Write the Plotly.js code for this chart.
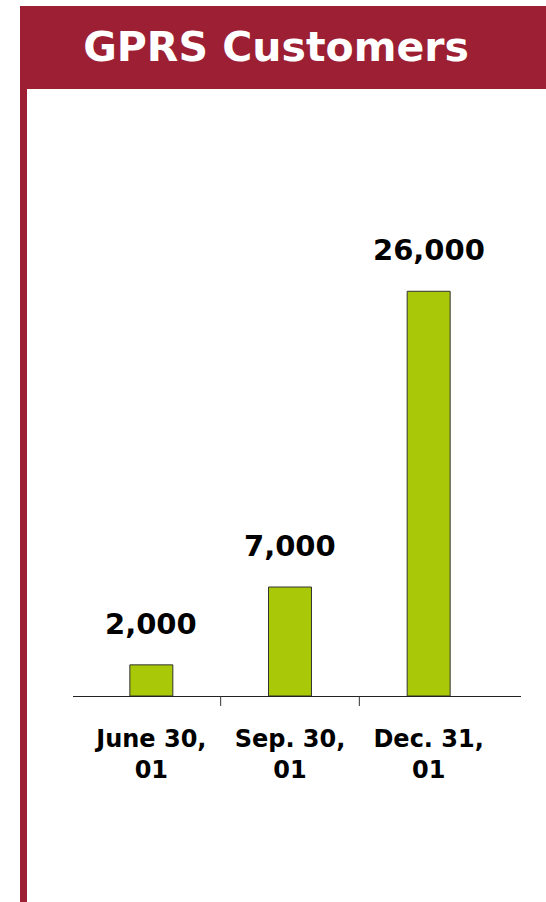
<!DOCTYPE html>
<html>
<head>
<meta charset="utf-8">
<script src="https://cdn.plot.ly/plotly-3.0.1.min.js"></script>
<style>html,body{margin:0;padding:0;background:#fff;}#chart{width:546px;height:902px;}</style>
</head>
<body>
<div id="chart"></div>
<script>
// ---- data ----
const categories = ["June 30,<br>01", "Sep. 30,<br>01", "Dec. 31,<br>01"];
const customers = [2000, 7000, 26000];
const valueLabels = ["2,000", "7,000", "26,000"];
const chartTitle = "GPRS Customers";

// ---- geometry ----
const W = 546, H = 902;
const ml = 73, mr = 25, mt = 229, mb = 206;
const pw = W - ml - mr, ph = H - mt - mb;
const px = x => (x - ml) / pw;          // pixel x -> paper
const py = y => (H - mb - y) / ph;      // pixel y -> paper
const RED = "#9C1F33";
const GREEN = "#A8C808";
const FONT = "DejaVu Sans, Verdana, sans-serif";

const trace = {
  type: "bar",
  x: categories,
  y: customers,
  width: 0.31,
  marker: { color: GREEN, line: { color: "#333333", width: 1 } },
  hoverinfo: "skip"
};

const annotations = categories.map((c, i) => ({
  x: c, y: customers[i], xref: "x", yref: "y",
  text: "<b>" + valueLabels[i] + "</b>",
  showarrow: false, xanchor: "center", yanchor: "bottom", yshift: 22,
  font: { family: FONT, size: 29, color: "#000" }
}));

const shapes = [
  // header band
  { type: "rect", xref: "paper", yref: "paper", x0: px(20), x1: px(546), y0: py(89), y1: py(6),
    fillcolor: RED, line: { width: 0 }, layer: "below" },
  // left vertical bar
  { type: "rect", xref: "paper", yref: "paper", x0: px(20), x1: px(27), y0: py(902), y1: py(6),
    fillcolor: RED, line: { width: 0 }, layer: "below" },
  // category boundary ticks
  { type: "line", xref: "x", yref: "paper", x0: 0.5, x1: 0.5, y0: 0, y1: py(706), line: { color: "#333", width: 1 } },
  { type: "line", xref: "x", yref: "paper", x0: 1.5, x1: 1.5, y0: 0, y1: py(706), line: { color: "#333", width: 1 } }
];

const layout = {
  width: W, height: H,
  margin: { l: ml, r: mr, t: mt, b: mb, pad: 0 },
  paper_bgcolor: "#fff", plot_bgcolor: "rgba(0,0,0,0)",
  showlegend: false,
  title: {
    text: "<b>" + chartTitle + "</b>",
    font: { family: FONT, size: 41, color: "#fff" },
    xref: "container", yref: "container",
    x: 276 / W, xanchor: "center",
    y: 1 - 47 / H, yanchor: "middle"
  },
  xaxis: {
    type: "category",
    range: [-0.565, 2.666],
    showline: true, linecolor: "#222", linewidth: 1,
    ticks: "", showgrid: false, zeroline: false,
    tickfont: { family: FONT, size: 24, color: "#000", weight: "bold" },
    ticklabelstandoff: 21,
    fixedrange: true
  },
  yaxis: {
    range: [0, 30000],
    visible: false, showgrid: false, zeroline: false,
    fixedrange: true
  },
  shapes: shapes,
  annotations: annotations,
  bargap: 0
};

Plotly.newPlot("chart", [trace], layout, { staticPlot: true, displayModeBar: false });
</script>
</body>
</html>
